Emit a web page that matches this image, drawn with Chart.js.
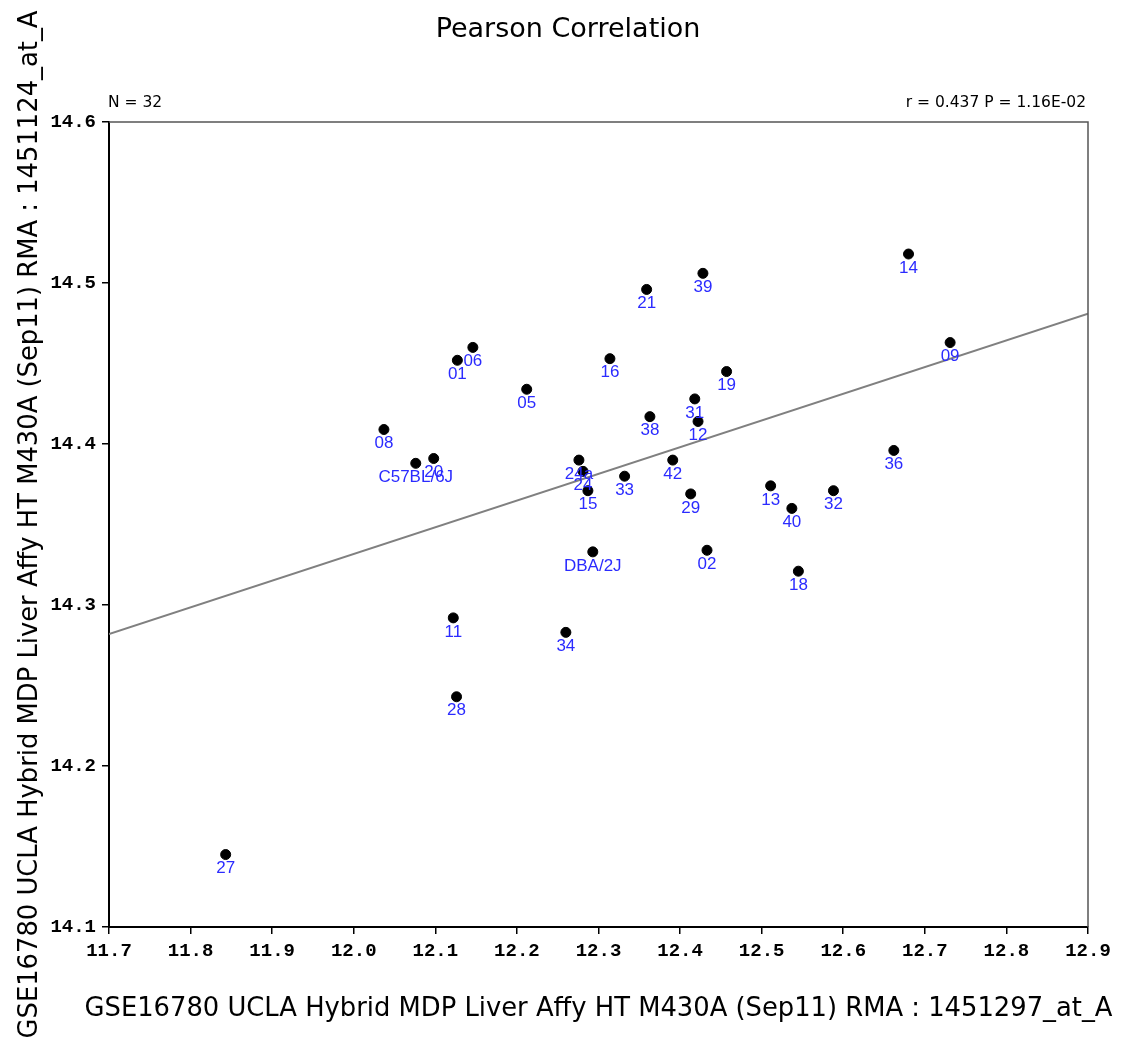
<!DOCTYPE html>
<html>
<head>
<meta charset="utf-8">
<script src="https://cdn.jsdelivr.net/npm/chart.js@4.4.1/dist/chart.umd.min.js"></script>
<style>
  body { margin: 0; background: #fff; }
  canvas { display: block; }
</style>
</head>
<body>
<canvas id="myChart" width="1121" height="1046"></canvas>
<script>
// strain labels and values (x = 1451297_at_A, y = 1451124_at_A)
var strains = ["14", "39", "21", "09", "06", "01", "16", "19", "05", "31", "38", "12",
  "08", "36", "20", "C57BL/6J", "24a", "42", "24", "33", "13", "15", "32", "29",
  "40", "DBA/2J", "02", "18", "11", "34", "28", "27"];
var xVals = [12.680, 12.428, 12.359, 12.731, 12.146, 12.127, 12.314, 12.457, 12.212, 12.418, 12.363, 12.422,
  12.037, 12.662, 12.098, 12.076, 12.276, 12.391, 12.281, 12.332, 12.511, 12.287, 12.588, 12.413,
  12.537, 12.293, 12.433, 12.545, 12.122, 12.260, 12.126, 11.843];
var yVals = [14.518, 14.506, 14.496, 14.463, 14.460, 14.452, 14.453, 14.445, 14.434, 14.428, 14.417, 14.414,
  14.409, 14.396, 14.391, 14.388, 14.390, 14.390, 14.383, 14.380, 14.374, 14.371, 14.371, 14.369,
  14.360, 14.333, 14.334, 14.321, 14.292, 14.283, 14.243, 14.145];

// fitted line end points
var fitX = [11.7, 12.9];
var fitY = [14.282, 14.481];

var xTitle = 'GSE16780 UCLA Hybrid MDP Liver Affy HT M430A (Sep11) RMA : 1451297_at_A';
var yTitle = 'GSE16780 UCLA Hybrid MDP Liver Affy HT M430A (Sep11) RMA : 1451124_at_A';

var points = xVals.map(function (x, i) { return { x: x, y: yVals[i] }; });
var fitLine = fitX.map(function (x, i) { return { x: x, y: fitY[i] }; });

// draws strain names under the dots, plus frame and header texts
const extras = {
  id: 'extras',
  afterDatasetsDraw(chart) {
    const ctx = chart.ctx;
    const meta = chart.getDatasetMeta(0);
    ctx.save();
    ctx.font = '17px "Liberation Sans", Arial, sans-serif';
    ctx.fillStyle = '#2b2bff';
    ctx.textAlign = 'center';
    ctx.textBaseline = 'middle';
    meta.data.forEach(function (pt, i) {
      ctx.fillText(strains[i], pt.x, pt.y + 14);
    });
    ctx.restore();
  },
  afterDraw(chart) {
    const ctx = chart.ctx;
    const a = chart.chartArea;
    ctx.save();
    ctx.strokeStyle = '#555';
    ctx.lineWidth = 1.5;
    ctx.beginPath();
    ctx.moveTo(a.left, a.top);
    ctx.lineTo(a.right, a.top);
    ctx.lineTo(a.right, a.bottom);
    ctx.stroke();

    ctx.fillStyle = '#000';
    ctx.textBaseline = 'middle';
    ctx.font = '27px "DejaVu Sans", Verdana, sans-serif';
    ctx.textAlign = 'center';
    ctx.fillText('Pearson Correlation', 568, 30);
    // x axis title is wider than the plot, so it is drawn here without maxWidth
    ctx.font = '25.8px "DejaVu Sans", Verdana, sans-serif';
    ctx.fillText(xTitle, (a.left + a.right) / 2, 1009);
    ctx.font = '15.5px "DejaVu Sans", Verdana, sans-serif';
    ctx.textAlign = 'left';
    ctx.fillText('N = 32', a.left - 1, 103);
    ctx.textAlign = 'right';
    ctx.fillText('r = 0.437 P = 1.16E-02', a.right - 2, 103);
    ctx.restore();
  }
};

const tickFont = { family: '"Liberation Mono", "Courier New", monospace', size: 19, weight: 'bold' };
const titleFont = { family: '"DejaVu Sans", Verdana, sans-serif', size: 25.8 };

const myChart = new Chart("myChart", {
  type: "scatter",
  data: {
    datasets: [{
      label: 'strains',
      data: points,
      backgroundColor: '#000',
      borderColor: '#000',
      pointRadius: 5,
      pointHoverRadius: 5,
      order: 0
    }, {
      type: 'line',
      label: 'fit',
      data: fitLine,
      borderColor: '#808080',
      borderWidth: 2,
      pointRadius: 0,
      fill: false,
      order: 1
    }]
  },
  options: {
    responsive: false,
    animation: false,
    layout: { padding: { top: 122, right: 33, left: 0, bottom: 0 } },
    plugins: {
      legend: { display: false },
      tooltip: { enabled: false }
    },
    scales: {
      x: {
        type: 'linear',
        min: 11.7,
        max: 12.9,
        afterFit: function (scale) { scale.height = 119; },
        ticks: {
          stepSize: 0.1,
          color: '#000',
          font: tickFont,
          padding: 6,
          maxRotation: 0,
          callback: function (v) { return v.toFixed(1); }
        },
        grid: { drawOnChartArea: false, drawTicks: true, tickLength: 7, color: '#000', lineWidth: 1.5 },
        border: { display: true, color: '#000', width: 2 },
        title: { display: false }
      },
      y: {
        type: 'linear',
        min: 14.1,
        max: 14.6,
        afterFit: function (scale) { scale.width = 109; },
        ticks: {
          stepSize: 0.1,
          color: '#000',
          font: tickFont,
          padding: 6,
          callback: function (v) { return v.toFixed(1); }
        },
        grid: { drawOnChartArea: false, drawTicks: true, tickLength: 7, color: '#000', lineWidth: 1.5 },
        border: { display: true, color: '#000', width: 2 },
        title: {
          display: true,
          text: yTitle,
          color: '#000',
          font: titleFont,
          padding: { top: 15, bottom: 0 }
        }
      }
    }
  },
  plugins: [extras]
});
</script>
</body>
</html>
